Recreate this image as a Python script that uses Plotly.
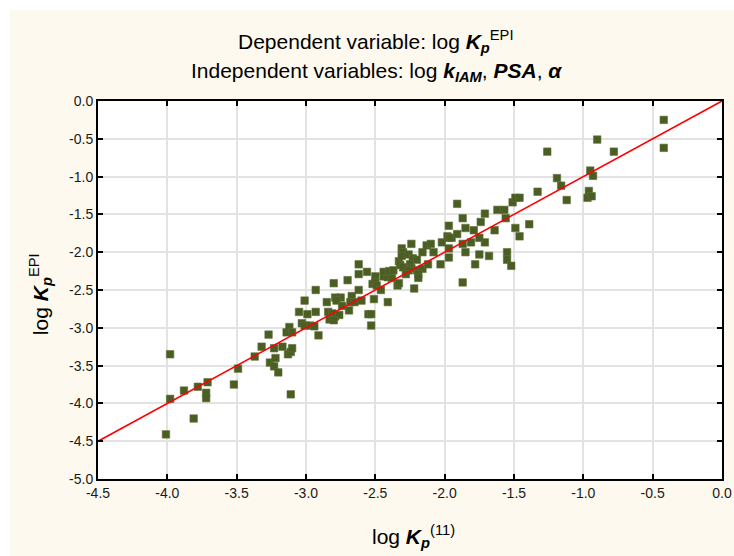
import plotly.graph_objects as go

# observed log Kp(11) (x) and predicted log Kp EPI (y)
x_vals = [
    -3.98, -3.98, -4.01, -3.88, -3.81, -3.78, -3.71, -3.72, -3.72, -3.52,
    -3.49, -3.37, -3.32, -3.27, -3.26, -3.23, -3.23, -3.22, -3.20, -3.17,
    -3.14, -3.12, -3.10, -3.13, -3.11, -3.10, -3.11,
    -3.05, -3.03, -3.01, -3.01, -2.99, -2.97, -2.94, -2.93, -2.93, -2.91,
    -2.85, -2.84, -2.81, -2.79, -2.76, -2.83, -2.80, -2.80, -2.79, -2.75,
    -2.78, -2.74,
    -2.70, -2.69, -2.67, -2.62, -2.68, -2.65, -2.60, -2.52, -2.51, -2.55,
    -2.53, -2.53, -2.62, -2.62, -2.56, -2.50, -2.50, -2.49, -2.46, -2.44,
    -2.41, -2.38, -2.44, -2.40, -2.37, -2.41, -2.34, -2.33, -2.33, -2.32,
    -2.31,
    -2.30, -2.31, -2.26, -2.24, -2.23, -2.20, -2.16, -2.13, -2.10, -2.08,
    -2.02, -1.98, -1.97, -2.03, -2.30, -2.25, -2.24, -2.20, -2.16, -2.12,
    -2.19, -2.19, -2.22, -2.26, -2.28, -1.97, -1.97, -1.95, -1.97,
    -1.91, -1.91, -1.87, -1.87, -1.85, -1.85, -1.87, -1.81, -1.79, -1.78,
    -1.75, -1.74, -1.71, -1.71, -1.75, -1.68, -1.64, -1.62, -1.57, -1.56,
    -1.55, -1.55, -1.52, -1.51, -1.49, -1.46, -1.49, -1.46, -1.39, -1.33,
    -1.26, -1.19, -1.16, -1.12, -0.95, -0.93, -0.96, -0.97, -0.94, -0.90,
    -0.78, -0.42, -0.42,
]
y_vals = [
    -3.35, -3.94, -4.41, -3.83, -4.20, -3.78, -3.72, -3.86, -3.93, -3.75,
    -3.54, -3.38, -3.25, -3.09, -3.46, -3.27, -3.51, -3.40, -3.59, -3.25,
    -3.06, -2.99, -3.06, -3.35, -3.32, -3.27, -3.88,
    -2.79, -2.94, -2.64, -2.97, -2.82, -2.97, -2.98, -2.79, -2.50, -3.10,
    -2.66, -2.79, -2.81, -2.85, -2.83, -2.89, -2.90, -2.41, -2.60, -2.60,
    -2.64, -2.71,
    -2.37, -2.77, -2.58, -2.50, -2.66, -2.66, -2.64, -2.42, -2.62, -2.82,
    -2.82, -2.97, -2.16, -2.29, -2.26, -2.32, -2.40, -2.44, -2.50, -2.32,
    -2.33, -2.34, -2.26, -2.25, -2.24, -2.66, -2.44, -2.41, -2.12, -2.17,
    -1.95,
    -2.00, -2.05, -2.03, -1.89, -2.08, -2.10, -2.00, -1.91, -1.89, -2.00,
    -1.87, -1.79, -2.07, -2.16, -2.20, -2.16, -2.21, -2.24, -2.22, -2.16,
    -2.29, -2.34, -2.48, -2.24, -2.29, -1.65, -1.81, -1.81, -1.95,
    -1.36, -1.76, -1.55, -1.89, -1.68, -2.00, -2.40, -1.87, -1.71, -2.16,
    -2.03, -1.60, -1.49, -1.87, -1.81, -2.05, -1.71, -1.44, -1.44, -1.55,
    -2.00, -2.10, -2.18, -1.34, -1.28, -1.28, -1.68, -1.79, -1.63, -1.20,
    -0.67, -1.02, -1.12, -1.31, -0.92, -0.99, -1.19, -1.28, -1.26, -0.51,
    -0.67, -0.25, -0.62,
]

# identity reference line
line_x = [-4.5, 0.0]
line_y = [-4.5, 0.0]

x_ticks = [-4.5, -4.0, -3.5, -3.0, -2.5, -2.0, -1.5, -1.0, -0.5, 0.0]
x_tick_labels = ["-4.5", "-4.0", "-3.5", "-3.0", "-2.5", "-2.0", "-1.5", "-1.0", "-0.5", "0.0"]
y_ticks = [0.0, -0.5, -1.0, -1.5, -2.0, -2.5, -3.0, -3.5, -4.0, -4.5, -5.0]
y_tick_labels = ["0.0", "-0.5", "-1.0", "-1.5", "-2.0", "-2.5", "-3.0", "-3.5", "-4.0", "-4.5", "-5.0"]

CREAM = "#fdf9ee"
FONT = "Liberation Sans, Arial, sans-serif"

fig = go.Figure()
fig.add_trace(go.Scatter(
    x=x_vals, y=y_vals, mode="markers",
    marker=dict(symbol="square", size=7.5, color="#4a5d23",
                line=dict(width=0.6, color="#5f7038")),
    showlegend=False, hoverinfo="x+y",
))
fig.add_trace(go.Scatter(
    x=line_x, y=line_y, mode="lines",
    line=dict(color="#ff0000", width=1.6),
    showlegend=False, hoverinfo="skip",
))

axis_common = dict(
    automargin=False,
    showgrid=True, gridcolor="#e3e3e3", gridwidth=1.5,
    zeroline=False, showline=True, linecolor="#000000", linewidth=2,
    mirror="ticks", ticks="inside", ticklen=5, tickwidth=1.5, tickcolor="#000000",
    tickfont=dict(family=FONT, size=14, color="#1a1a1a"),
)

fig.update_xaxes(range=[-4.5, 0.0], tickvals=x_ticks, ticktext=x_tick_labels, **axis_common)
fig.update_yaxes(range=[-5.0, 0.0], tickvals=y_ticks, ticktext=y_tick_labels, **axis_common)

fig.update_layout(
    width=734, height=556,
    margin=dict(l=98, r=12, t=101, b=77),
    paper_bgcolor=CREAM, plot_bgcolor="#ffffff",
    font=dict(family=FONT, color="#000000"),
    shapes=[
        dict(type="rect", xref="paper", yref="paper",
             x0=-0.2, x1=1.1, y0=1.2407, y1=1.30,
             fillcolor="#ffffff", line=dict(width=0), layer="below"),
        dict(type="rect", xref="paper", yref="paper",
             x0=-0.2, x1=-0.141, y0=-0.3, y1=1.30,
             fillcolor="#ffffff", line=dict(width=0), layer="below"),
    ],
    annotations=[
        dict(text="Dependent variable: log <b><i>K</i></b><sub><b><i>p</i></b></sub><sup>EPI</sup>",
             xref="paper", yref="paper", x=0.445, y=1.158,
             xanchor="center", yanchor="middle", showarrow=False,
             font=dict(family=FONT, size=21, color="#000000")),
        dict(text="Independent variables: log <b><i>k</i></b><sub><b><i>IAM</i></b></sub>, "
                  "<b><i>PSA</i></b>, <b><i>α</i></b>",
             xref="paper", yref="paper", x=0.447, y=1.077,
             xanchor="center", yanchor="middle", showarrow=False,
             font=dict(family=FONT, size=21, color="#000000")),
        dict(text="log <b><i>K</i></b><sub><b><i>p</i></b></sub><sup>(11)</sup>",
             xref="paper", yref="paper", x=0.505, y=-0.153,
             xanchor="center", yanchor="middle", showarrow=False,
             font=dict(family=FONT, size=21, color="#000000")),
        dict(text="log <b><i>K</i></b><sub><b><i>p</i></b></sub><sup>EPI</sup>",
             xref="paper", yref="paper", x=-0.093, y=0.489,
             xanchor="center", yanchor="middle", showarrow=False, textangle=-90,
             font=dict(family=FONT, size=21, color="#000000")),
    ],
)

fig.write_html("out.html")
